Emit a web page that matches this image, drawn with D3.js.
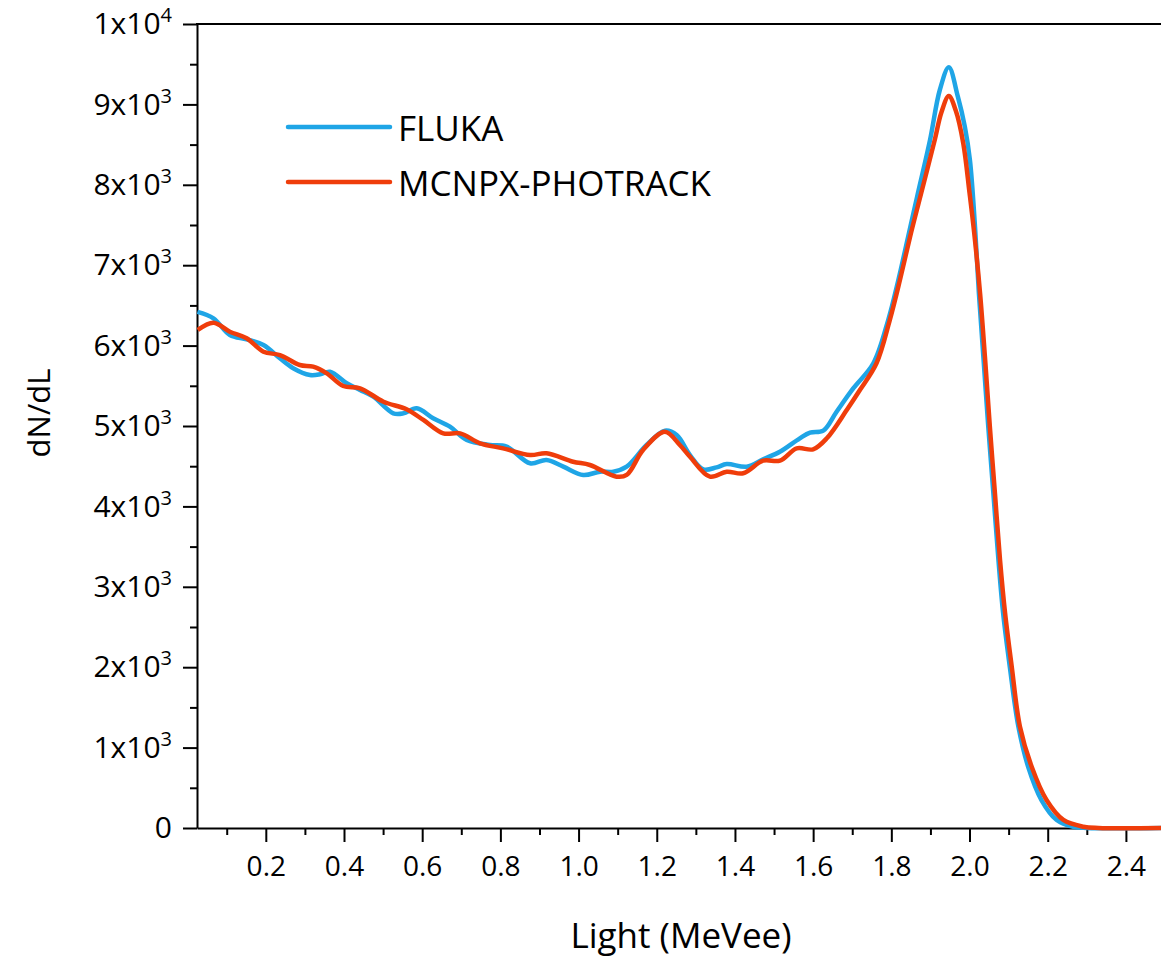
<!DOCTYPE html>
<html>
<head>
<meta charset="utf-8">
<script src="https://cdn.jsdelivr.net/npm/d3@7"></script>
<style>
  body { margin: 0; background: #fff; }
  svg { display: block; }
  text { font-family: "Open Sans", sans-serif; fill: #000; }
</style>
</head>
<body>
<svg id="chart" width="1161" height="960"></svg>
<script>
// FLUKA spectrum
var flukaLight = [0.025, 0.066, 0.108, 0.151, 0.194, 0.236, 0.270, 0.313, 0.339, 0.364,
  0.407, 0.441, 0.475, 0.526, 0.552, 0.586, 0.628, 0.671, 0.714, 0.773,
  0.816, 0.876, 0.918, 0.961, 1.012, 1.055, 1.089, 1.123, 1.174, 1.221,
  1.251, 1.285, 1.319, 1.353, 1.379, 1.430, 1.472, 1.515, 1.566, 1.592,
  1.626, 1.660, 1.703, 1.754, 1.792, 1.818, 1.843, 1.866, 1.899, 1.924,
  1.947, 1.970, 1.988, 2.001, 2.014, 2.024, 2.036, 2.048, 2.061, 2.074,
  2.086, 2.103, 2.125, 2.150, 2.184, 2.223, 2.265, 2.300, 2.500];
var flukaCounts = [6420, 6340, 6132, 6078, 6008, 5842, 5718, 5634, 5643, 5675,
  5531, 5448, 5364, 5158, 5158, 5220, 5096, 4991, 4826, 4764,
  4743, 4536, 4577, 4494, 4391, 4432, 4432, 4494, 4764, 4942,
  4888, 4639, 4461, 4486, 4527, 4494, 4586, 4680, 4847, 4917,
  4942, 5178, 5470, 5780, 6318, 6816, 7355, 7852, 8557, 9179,
  9461, 9100, 8723, 8308, 7479, 6650, 5821, 4991, 4163, 3333,
  2670, 2006, 1260, 762, 348, 100, 16, 0, 0];

// MCNPX-PHOTRACK spectrum
var mcnpxLight = [0.026, 0.066, 0.108, 0.151, 0.194, 0.236, 0.287, 0.321, 0.356, 0.398,
  0.441, 0.501, 0.560, 0.603, 0.654, 0.697, 0.748, 0.807, 0.876, 0.918,
  0.986, 1.029, 1.097, 1.123, 1.165, 1.221, 1.259, 1.285, 1.336, 1.379,
  1.421, 1.472, 1.515, 1.558, 1.600, 1.635, 1.686, 1.720, 1.762, 1.796,
  1.822, 1.848, 1.874, 1.911, 1.928, 1.947, 1.965, 1.984, 2.000, 2.012,
  2.027, 2.040, 2.052, 2.065, 2.078, 2.091, 2.108, 2.129, 2.159, 2.197,
  2.240, 2.291, 2.330, 2.500];
var mcnpxCounts = [6194, 6285, 6173, 6091, 5924, 5883, 5759, 5738, 5655, 5497,
  5469, 5302, 5208, 5075, 4909, 4909, 4785, 4722, 4639, 4660,
  4556, 4515, 4370, 4391, 4701, 4929, 4764, 4618, 4370, 4432,
  4412, 4569, 4569, 4722, 4710, 4847, 5199, 5450, 5780, 6318,
  6816, 7355, 7852, 8557, 8900, 9104, 8920, 8516, 7900, 7400,
  6650, 5821, 4991, 4163, 3333, 2670, 2006, 1260, 762, 348,
  100, 16, 0, 0];

var xTicks = [0.2, 0.4, 0.6, 0.8, 1.0, 1.2, 1.4, 1.6, 1.8, 2.0, 2.2, 2.4];
var xMinorTicks = [0.1, 0.3, 0.5, 0.7, 0.9, 1.1, 1.3, 1.5, 1.7, 1.9, 2.1, 2.3, 2.5];
var yTicks = [0, 1000, 2000, 3000, 4000, 5000, 6000, 7000, 8000, 9000, 10000];
var yMinorTicks = [500, 1500, 2500, 3500, 4500, 5500, 6500, 7500, 8500, 9500];
var yTickLabels = ["0", "1x10^3", "2x10^3", "3x10^3", "4x10^3", "5x10^3",
  "6x10^3", "7x10^3", "8x10^3", "9x10^3", "1x10^4"];

var seriesNames = ["FLUKA", "MCNPX-PHOTRACK"];
var seriesColors = ["#1FA5E6", "#EF3D0B"];

var svg = d3.select("#chart");
var plotLeft = 197, plotRight = 1165, plotTop = 24, plotBottom = 828;

var x = d3.scaleLinear().domain([0.024, 2.5]).range([plotLeft, plotRight]);
var y = d3.scaleLinear().domain([0, 10000]).range([plotBottom, plotTop]);

svg.append("defs").append("clipPath").attr("id", "plot-clip")
  .append("rect")
  .attr("x", plotLeft).attr("y", plotTop - 5)
  .attr("width", plotRight - plotLeft).attr("height", plotBottom - plotTop + 10);

// minor ticks
svg.append("g")
  .attr("transform", "translate(0," + plotBottom + ")")
  .call(d3.axisBottom(x).tickValues(xMinorTicks).tickSize(7).tickFormat(""))
  .call(function(g) { g.select(".domain").remove(); });
svg.append("g")
  .attr("transform", "translate(" + plotLeft + ",0)")
  .call(d3.axisLeft(y).tickValues(yMinorTicks).tickSize(7).tickFormat(""))
  .call(function(g) { g.select(".domain").remove(); });

// x axis
var xAxis = svg.append("g")
  .attr("transform", "translate(0," + plotBottom + ")")
  .call(d3.axisBottom(x).tickValues(xTicks).tickSize(14).tickSizeOuter(0).tickPadding(14)
    .tickFormat(d3.format(".1f")));
xAxis.selectAll("text").attr("font-size", 28).attr("font-family", "Open Sans");

// y axis
var yAxis = svg.append("g")
  .attr("transform", "translate(" + plotLeft + ",0)")
  .call(d3.axisLeft(y).tickValues(yTicks).tickSize(14).tickSizeOuter(0).tickPadding(11)
    .tickFormat(""));
yAxis.selectAll(".tick text").each(function(d, i) {
  var parts = yTickLabels[i].split("^");
  var t = d3.select(this).attr("font-size", 30).attr("font-family", "Open Sans");
  t.append("tspan").text(parts[0]);
  if (parts[1]) {
    t.append("tspan").attr("font-size", 20).attr("dy", "-0.6em").text(parts[1]);
  }
});

svg.selectAll(".domain, .tick line").attr("stroke", "#000").attr("stroke-width", 2);

// top frame line
svg.append("line")
  .attr("x1", plotLeft - 1).attr("x2", plotRight)
  .attr("y1", plotTop).attr("y2", plotTop)
  .attr("stroke", "#000").attr("stroke-width", 2);

var line = d3.line()
  .x(function(d) { return x(d[0]); })
  .y(function(d) { return y(d[1]); })
  .curve(d3.curveCatmullRom.alpha(0.5));

var series = [
  d3.zip(flukaLight, flukaCounts),
  d3.zip(mcnpxLight, mcnpxCounts)
];

svg.append("g").attr("clip-path", "url(#plot-clip)")
  .selectAll("path")
  .data(series)
  .enter()
  .append("path")
  .attr("d", line)
  .attr("fill", "none")
  .attr("stroke", function(d, i) { return seriesColors[i]; })
  .attr("stroke-width", 4.5)
  .attr("stroke-linejoin", "round");

// legend
var legend = svg.append("g");
seriesNames.forEach(function(name, i) {
  var ly = 127 + i * 55;
  legend.append("line")
    .attr("x1", 288).attr("x2", 390)
    .attr("y1", ly).attr("y2", ly)
    .attr("stroke", seriesColors[i])
    .attr("stroke-width", 4.5)
    .attr("stroke-linecap", "round");
  legend.append("text")
    .attr("x", 398).attr("y", ly + 14)
    .attr("font-size", 35)
    .text(name);
});

// axis titles
svg.append("text")
  .attr("x", (plotLeft + plotRight) / 2).attr("y", 948)
  .attr("text-anchor", "middle")
  .attr("font-size", 35)
  .text("Light (MeVee)");

svg.append("text")
  .attr("transform", "translate(50,413) rotate(-90)")
  .attr("text-anchor", "middle")
  .attr("font-size", 31)
  .text("dN/dL");
</script>
</body>
</html>
